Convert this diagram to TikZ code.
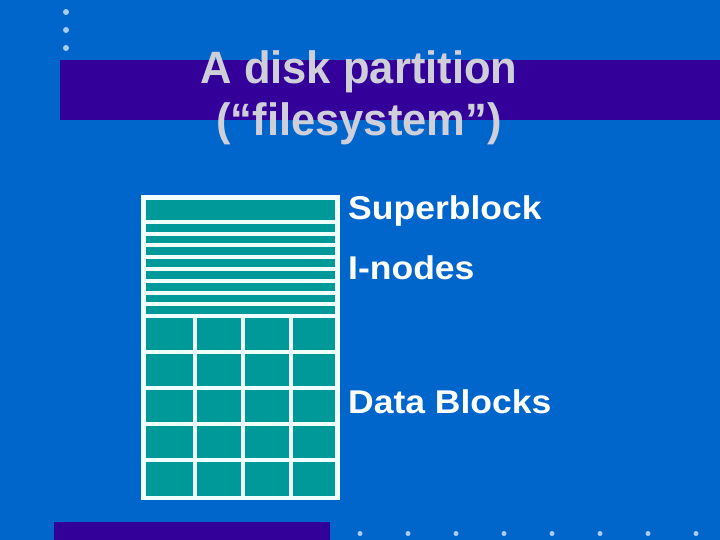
\documentclass[tikz,border=0pt]{standalone}
\usepackage{fontspec}
\setmainfont{Liberation Sans}
\newfontfamily\titlefont[FakeStretch=0.96]{Liberation Sans}
\newfontfamily\labelfont[FakeStretch=1.08]{Liberation Sans}
\definecolor{bgblue}{HTML}{0066CC}
\definecolor{bandpurple}{HTML}{330099}
\definecolor{cellteal}{HTML}{009999}
\definecolor{linewhite}{HTML}{F0FFFF}
\definecolor{dotblue}{HTML}{AACCEE}
\definecolor{titlegray}{HTML}{CFCFDA}
\tikzset{
  band/.style={fill=bandpurple, draw=none},
  cell/.style={fill=cellteal, draw=none},
  bullet/.style={circle, fill=dotblue, inner sep=0pt, minimum size=6bp},
  titletext/.style={text=titlegray, font=\titlefont\fontsize{45.5}{52}\selectfont\bfseries, inner sep=0pt, anchor=base},
  labeltext/.style={text=white, font=\labelfont\fontsize{33}{40}\selectfont\bfseries, inner sep=0pt, anchor=base west}
}
\begin{document}
\begin{tikzpicture}[x=1bp,y=-1bp]
\useasboundingbox (0,0) rectangle (720,540);
\fill[bgblue] (0,0) rectangle (720,540);
% bands
\fill[band] (60,60) rectangle (720,120.5);
\fill[band] (54,522) rectangle (330,540);
% top bullets
\foreach \yy [count=\i] in {12,30,48} \node[bullet] (tb\i) at (66,\yy) {};
% bottom bullets
\foreach \xx [count=\i] in {360,408,456,504,552,600,648,696} \node[bullet, minimum size=5bp] (bb\i) at (\xx,533.5) {};
% title
\node[titletext] (title1) at (359,83.3) {A disk partition};
\node[titletext] (title2) at (359,136) {(“filesystem”)};
% partition box
\fill[linewhite] (141,195) rectangle (339.5,500);
\fill[cell] (146,200) rectangle (335,220);
\foreach \k in {0,...,7} \fill[cell] (146,224+11.75*\k) rectangle (335,231.75+11.75*\k);
\foreach \xa/\xb in {146/192.5, 197/241, 245/289, 293/335}
  \foreach \ya/\yb in {318/350, 354/386, 390/422, 426/458, 462/496}
    \fill[cell] (\xa,\ya) rectangle (\xb,\yb);
% labels
\node[labeltext] (super) at (348,220) {Superblock};
\node[labeltext] (inodes) at (348,280) {I-nodes};
\node[labeltext] (data) at (348,413.3) {Data Blocks};
\end{tikzpicture}
\end{document}
